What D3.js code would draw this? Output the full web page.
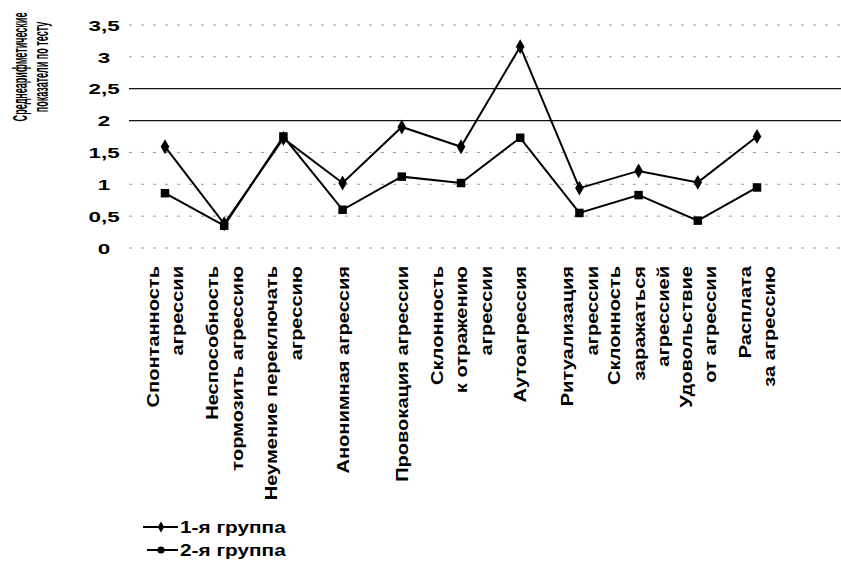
<!DOCTYPE html>
<html><head><meta charset="utf-8">
<script src="https://cdn.jsdelivr.net/npm/d3@7"></script>
<style>body{margin:0;background:#fff}</style>
</head><body><svg id="c" width="841" height="568"></svg>
<script>
const categories = [
  "Спонтанность\nагрессии",
  "Неспособность\nтормозить агрессию",
  "Неумение переключать\nагрессию",
  "Анонимная агрессия",
  "Провокация агрессии",
  "Склонность\nк отражению\nагрессии",
  "Аутоагрессия",
  "Ритуализация\nагрессии",
  "Склонность\nзаражаться\nагрессией",
  "Удовольствие\nот агрессии",
  "Расплата\nза агрессию"
];
const group1 = [1.59, 0.38, 1.72, 1.02, 1.90, 1.59, 3.16, 0.94, 1.21, 1.03, 1.75];
const group2 = [0.86, 0.35, 1.75, 0.60, 1.12, 1.02, 1.73, 0.55, 0.83, 0.43, 0.95];
const yTicks = [0, 0.5, 1, 1.5, 2, 2.5, 3, 3.5];
const yTickLabels = ["0", "0,5", "1", "1,5", "2", "2,5", "3", "3,5"];
const seriesNames = ["1-я группа", "2-я группа"];
const yTitle = ["Среднеарифметические", "показатели по тесту"];

const svg = d3.select("#c");
const font = "'Liberation Sans', Arial, Helvetica, sans-serif";
const plotLeft = 129, plotRight = 841;
const x = d3.scalePoint().domain(categories).range([165, 757]);
const y = d3.scaleLinear().domain([0, 3.5]).range([248, 25]);

// gridlines
const strong = d => d === 2 || d === 2.5;
svg.append("g").selectAll("line").data(yTicks).join("line")
  .attr("x1", plotLeft).attr("x2", plotRight)
  .attr("y1", d => y(d)).attr("y2", d => y(d))
  .attr("stroke", d => strong(d) ? "#111" : "#999")
  .attr("stroke-width", d => strong(d) ? 1.3 : 1)
  .attr("stroke-dasharray", d => strong(d) ? null : "3,9");

// y axis
const tsx = 1.55;
const yAxis = d3.axisLeft(y).tickValues(yTicks).tickSize(0).tickFormat((d, i) => yTickLabels[i]);
const ga = svg.append("g").attr("transform", `translate(${plotLeft},0)`).call(yAxis);
ga.select(".domain").remove();
ga.selectAll("text")
  .attr("font-family", font).attr("font-size", 14.5).attr("font-weight", "bold").attr("fill", "#000")
  .attr("text-anchor", "middle")
  .attr("x", (104 - plotLeft) / tsx)
  .attr("dy", "0.36em")
  .attr("transform", `scale(${tsx},1)`);

// y title
yTitle.forEach((t, i) => {
  svg.append("text")
    .attr("transform", `translate(${20 + i * 21},67) rotate(-90) scale(0.44,1)`)
    .attr("text-anchor", "middle").attr("dy", "0.36em")
    .attr("font-family", font).attr("font-size", 20.5).attr("font-weight", "bold").attr("fill", "#000")
    .text(t);
});

// x labels
const lab = svg.append("g").selectAll("g").data(categories).join("g");
lab.each(function (d) {
  const lines = d.split("\n");
  const n = lines.length;
  const g = d3.select(this);
  lines.forEach((t, i) => {
    const cx = x(d) + (i - (n - 1) / 2) * 24.5;
    g.append("text")
      .attr("transform", `translate(${cx},266) rotate(-90) scale(1.18,1)`)
      .attr("text-anchor", "end").attr("dy", "0.36em")
      .attr("font-family", font).attr("font-size", 17).attr("font-weight", "bold").attr("fill", "#000")
      .text(t);
  });
});

// series
const line = d3.line().x((d, i) => x(categories[i])).y(d => y(d));
[group1, group2].forEach(s => {
  svg.append("path").attr("d", line(s)).attr("fill", "none")
    .attr("stroke", "#000").attr("stroke-width", 2);
});
const sym1 = d3.symbol().type(d3.symbolDiamond).size(64);
const sym2 = d3.symbol().type(d3.symbolSquare).size(72);
svg.append("g").selectAll("path").data(group2).join("path")
  .attr("d", sym2).attr("fill", "#000")
  .attr("transform", (d, i) => `translate(${x(categories[i])},${y(d)})`);
svg.append("g").selectAll("path").data(group1).join("path")
  .attr("d", sym1).attr("fill", "#000")
  .attr("transform", (d, i) => `translate(${x(categories[i])},${y(d)})`);

// legend
const legY = [527, 550];
const legSym = [d3.symbol().type(d3.symbolDiamond).size(36), d3.symbol().type(d3.symbolCircle).size(40)];
seriesNames.forEach((name, k) => {
  const g = svg.append("g");
  g.append("line").attr("x1", k === 0 ? 143 : 147).attr("x2", 178)
    .attr("y1", legY[k]).attr("y2", legY[k]).attr("stroke", "#000").attr("stroke-width", 2);
  g.append("path").attr("d", legSym[k]()).attr("fill", "#000")
    .attr("transform", `translate(161,${legY[k]})`);
  g.append("text")
    .attr("transform", `translate(180,${legY[k]}) scale(1.3,1)`)
    .attr("dy", "0.36em")
    .attr("font-family", font).attr("font-size", 16).attr("font-weight", "bold").attr("fill", "#000")
    .text(name);
});
</script>
</body></html>
